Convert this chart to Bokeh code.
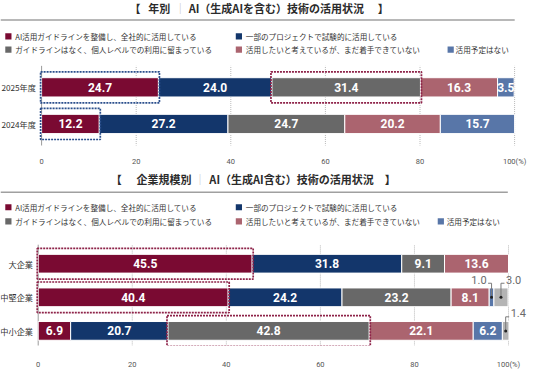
from bokeh.plotting import figure
from bokeh.layouts import column
from bokeh.models import Range1d, FixedTicker, ColumnDataSource
from bokeh.core.properties import value
from bokeh.embed import file_html
from bokeh.resources import INLINE

# ---------------- data ----------------
series_names = [
    "AI活用ガイドラインを整備し、全社的に活用している",
    "一部のプロジェクトで試験的に活用している",
    "ガイドラインはなく、個人レベルでの利用に留まっている",
    "活用したいと考えているが、まだ着手できていない",
    "活用予定はない",
]
extra_series = "無回答"

title1_a = "年別"
title1_b = "AI（生成AIを含む）技術の活用状況"
title2_a = "企業規模別"
title2_b = "AI（生成AI含む）技術の活用状況"

years = ["2025年度", "2024年度"]
vals_2025 = [24.7, 24.0, 31.4, 16.3, 3.5]
vals_2024 = [12.2, 27.2, 24.7, 20.2, 15.7]

sizes = ["大企業", "中堅企業", "中小企業"]
vals_large = [45.5, 31.8, 9.1, 13.6, 0.0, 0.0]
vals_mid = [40.4, 24.2, 23.2, 8.1, 1.0, 3.0]
vals_small = [6.9, 20.7, 42.8, 22.1, 6.2, 1.4]

x_ticks = [0, 20, 40, 60, 80, 100]
x_tick_labels = ["0", "20", "40", "60", "80", "100(%)"]

# highlighted cells: (row label, series index, box colour key)
hl_years = [("2025年度", 0, "blue"), ("2025年度", 2, "red"), ("2024年度", 0, "blue")]
hl_sizes = [("大企業", 0, "red"), ("中堅企業", 0, "red"), ("中小企業", 2, "red")]
# small values shown with callouts: (row label, series index, side)
callouts_sizes = [("中堅企業", 4, "left"), ("中堅企業", 5, "right"), ("中小企業", 5, "right")]

# ---------------- style ----------------
series_colors = ["#7a0a32", "#13366b", "#686868", "#ab646f", "#5876a8"]
extra_color = "#b4b4b4"
box_colors = {"blue": "#2b4f8c", "red": "#8e2349"}
JP = "Noto Sans CJK JP"
NUM = "Roboto"
W = 528
SX = 528 / 536
SY = 371 / 379


def make_panel(h, top, bb, x0, ux, uy, first_center, rows, row_vals, bar_h,
               highlights, callouts, hdr, grid_px, cat_right, tick_standoff):
    """One figure holding a header (title, rule, legend) and a stacked bar chart.
    x data = percent (0 at canvas pixel x0, ux px per %); y data = row index."""
    frame_h = h - bb
    n = len(rows)
    y_end = (n - 1) + (first_center * SY - top) / uy
    p = figure(width=W, height=h, x_range=Range1d(-x0 / ux, (W - x0) / ux),
               y_range=Range1d(y_end - frame_h / uy, y_end), y_axis_type=None,
               toolbar_location=None, output_backend="svg",
               min_border_left=0, min_border_right=0, min_border_top=0,
               min_border_bottom=bb, outline_line_color=None,
               background_fill_color="white", border_fill_color="white")

    def X(rx):            # reference pixel -> data x
        return (rx * SX - x0) / ux

    def Y(ry):            # reference pixel -> data y
        return y_end - (ry * SY - top) / uy

    # ---- header ----
    ty = Y(hdr["title_y"])
    lb, pa, ps, pb, rb = [X(v) for v in hdr["tpos"]]
    p.text(x=[lb, pa, pb, rb], y=[ty] * 4, text=["【", hdr["ta"], hdr["tb"], "】"],
           text_font=value(JP), text_font_size=value("11px"), text_font_style="bold",
           text_color="#2b2b2b", text_baseline="middle", text_align="left")
    p.text(x=[ps], y=[ty], text=["｜"], text_font=value(JP), text_font_size=value("11px"),
           text_color="#c0c0c0", text_baseline="middle", text_align="left")
    ly = Y(hdr["line_y"])
    p.line(x=[X(0), X(hdr["line_end"])], y=[ly, ly], line_color="#a0a0a0", line_width=1.5)
    layout_rows = [[0, 1], [2, 3, 4]]
    sx, sy, tx, tyl, tt, sc = [], [], [], [], [], []
    for r, items in enumerate(layout_rows):
        yy = Y(hdr["rows_y"][r])
        for c, k in enumerate(items):
            sq, tx0 = hdr["cols"][c]
            sx.append(X(sq)); sy.append(yy); sc.append(series_colors[k])
            tx.append(X(tx0)); tyl.append(yy); tt.append(series_names[k])
    p.scatter(x=sx, y=sy, marker="square", size=6.2, fill_color=sc, line_color=None)
    p.text(x=tx, y=tyl, text=tt, text_font=value(JP), text_font_size=value("7.6px"),
           text_color="#333333", text_baseline="middle", text_align="left")

    # ---- grid + value axis line (only over the bar area) ----
    g0, g1 = Y(grid_px[1]), Y(grid_px[0])
    gx = [t for t in x_ticks if t != 0]
    p.segment(x0=gx, x1=gx, y0=[g0] * len(gx), y1=[g1] * len(gx),
              line_color="#b8b8b8", line_width=1, line_dash="1 1")
    p.segment(x0=[0], x1=[0], y0=[g0], y1=[g1], line_color="#9a9a9a", line_width=1)

    # ---- bars ----
    ypos = {r: n - 1 - i for i, r in enumerate(rows)}
    colors = series_colors + [extra_color]
    call_keys = {(r, j) for r, j, _ in callouts}
    seg = dict(y=[], left=[], right=[], color=[])
    lab = dict(x=[], y=[], text=[])
    starts = {}
    for i, r in enumerate(rows):
        acc = 0.0
        for j, v in enumerate(row_vals[i]):
            starts[(r, j)] = (acc, acc + v)
            if v > 0:
                seg["y"].append(ypos[r]); seg["left"].append(acc)
                seg["right"].append(acc + v); seg["color"].append(colors[j])
                if (r, j) not in call_keys:
                    lab["x"].append(acc + v / 2); lab["y"].append(ypos[r])
                    lab["text"].append(f"{v:.1f}")
            acc += v
    p.hbar(y="y", left="left", right="right", height=bar_h, fill_color="color",
           line_color="white", line_width=1, source=ColumnDataSource(seg))
    p.text(x="x", y="y", text="text", source=ColumnDataSource(lab),
           text_font=value(NUM), text_font_size=value("12px"), text_font_style="bold",
           text_color="white", text_align="center", text_baseline="middle")

    # category labels
    p.text(x=[X(cat_right)] * n, y=[ypos[r] for r in rows], text=rows,
           text_font=value(JP), text_font_size=value("8.2px"), text_color="#333333",
           text_align="right", text_baseline="middle")

    # ---- callouts for very small values ----
    if callouts:
        lx, lyy, dx, dy, cx_, cy_, ct, ca = [], [], [], [], [], [], [], []
        for r, j, side in callouts:
            a, b = starts[(r, j)]
            xc = (a + b) / 2
            y0 = ypos[r]
            rise = 14.7 / uy
            sgn = -1 if side == "left" else 1
            lx.append([xc, xc, xc + sgn * 3.5 / ux])
            lyy.append([y0, y0 + rise, y0 + rise])
            dx.append(xc); dy.append(y0)
            cx_.append(xc + sgn * 5 / ux); cy_.append(y0 + rise + 3.5 / uy)
            v = row_vals[rows.index(r)][j]
            ct.append(f"{v:.1f}"); ca.append("right" if side == "left" else "left")
        p.multi_line(xs=lx, ys=lyy, line_color="#7a7a7a", line_width=1)
        p.scatter(x=dx, y=dy, size=3, fill_color="#222222", line_color=None)
        src = ColumnDataSource(dict(x=cx_, y=cy_, text=ct, align=ca))
        p.text(x="x", y="y", text="text", text_align="align", source=src,
               text_font=value(NUM), text_font_size=value("11px"),
               text_color="#6a6a6a", text_baseline="middle")

    # ---- highlight boxes ----
    qd = dict(left=[], right=[], bottom=[], top=[], color=[])
    for r, j, ck in highlights:
        a, b = starts[(r, j)]
        qd["left"].append(a - 1.0 / ux); qd["right"].append(b + 1.0 / ux)
        qd["bottom"].append(ypos[r] - bar_h / 2 - 6.2 / uy)
        qd["top"].append(ypos[r] + bar_h / 2 + 6.2 / uy)
        qd["color"].append(box_colors[ck])
    p.quad(left="left", right="right", bottom="bottom", top="top",
           fill_color=None, line_color="color", line_width=1.7, line_dash="2 1",
           source=ColumnDataSource(qd))

    # ---- x axis ----
    p.xgrid.visible = False
    p.ygrid.visible = False
    p.xaxis.ticker = FixedTicker(ticks=x_ticks)
    p.xaxis.major_label_overrides = {t: s for t, s in zip(x_ticks, x_tick_labels)}
    p.xaxis.axis_line_color = None
    p.xaxis.major_tick_line_color = None
    p.xaxis.minor_tick_line_color = None
    p.xaxis.major_label_text_font = NUM
    p.xaxis.major_label_text_font_size = "7.5px"
    p.xaxis.major_label_text_color = "#555555"
    p.xaxis.major_label_standoff = tick_standoff
    return p


hdr1 = dict(title_y=7.5, line_y=21, rows_y=[38.4, 52.7], tpos=(131, 150, 177, 191, 383),
            ta=title1_a, tb=title1_b, line_end=522,
            cols=[(8, 15), (242, 249), (457, 462)])
hdr2 = dict(title_y=183, line_y=197, rows_y=[213, 228], tpos=(112, 138, 197, 212, 390),
            ta=title2_a, tb=title2_b, line_end=515,
            cols=[(8, 15), (242, 249), (447, 453)])

pA = make_panel(168, 0, 16, 41.1, 4.73, 38.4, 93, years, [vals_2025, vals_2024],
                0.526, hl_years, [], hdr1, (70, 158), 36, 5)
pB = make_panel(203, 168, 18, 37.7, 4.703, 35.1, 273.3, sizes,
                [vals_large, vals_mid, vals_small], 0.558, hl_sizes, callouts_sizes,
                hdr2, (253, 368), 33, 8)

layout = column(pA, pB)
open("out.html", "w").write(file_html(layout, INLINE))
